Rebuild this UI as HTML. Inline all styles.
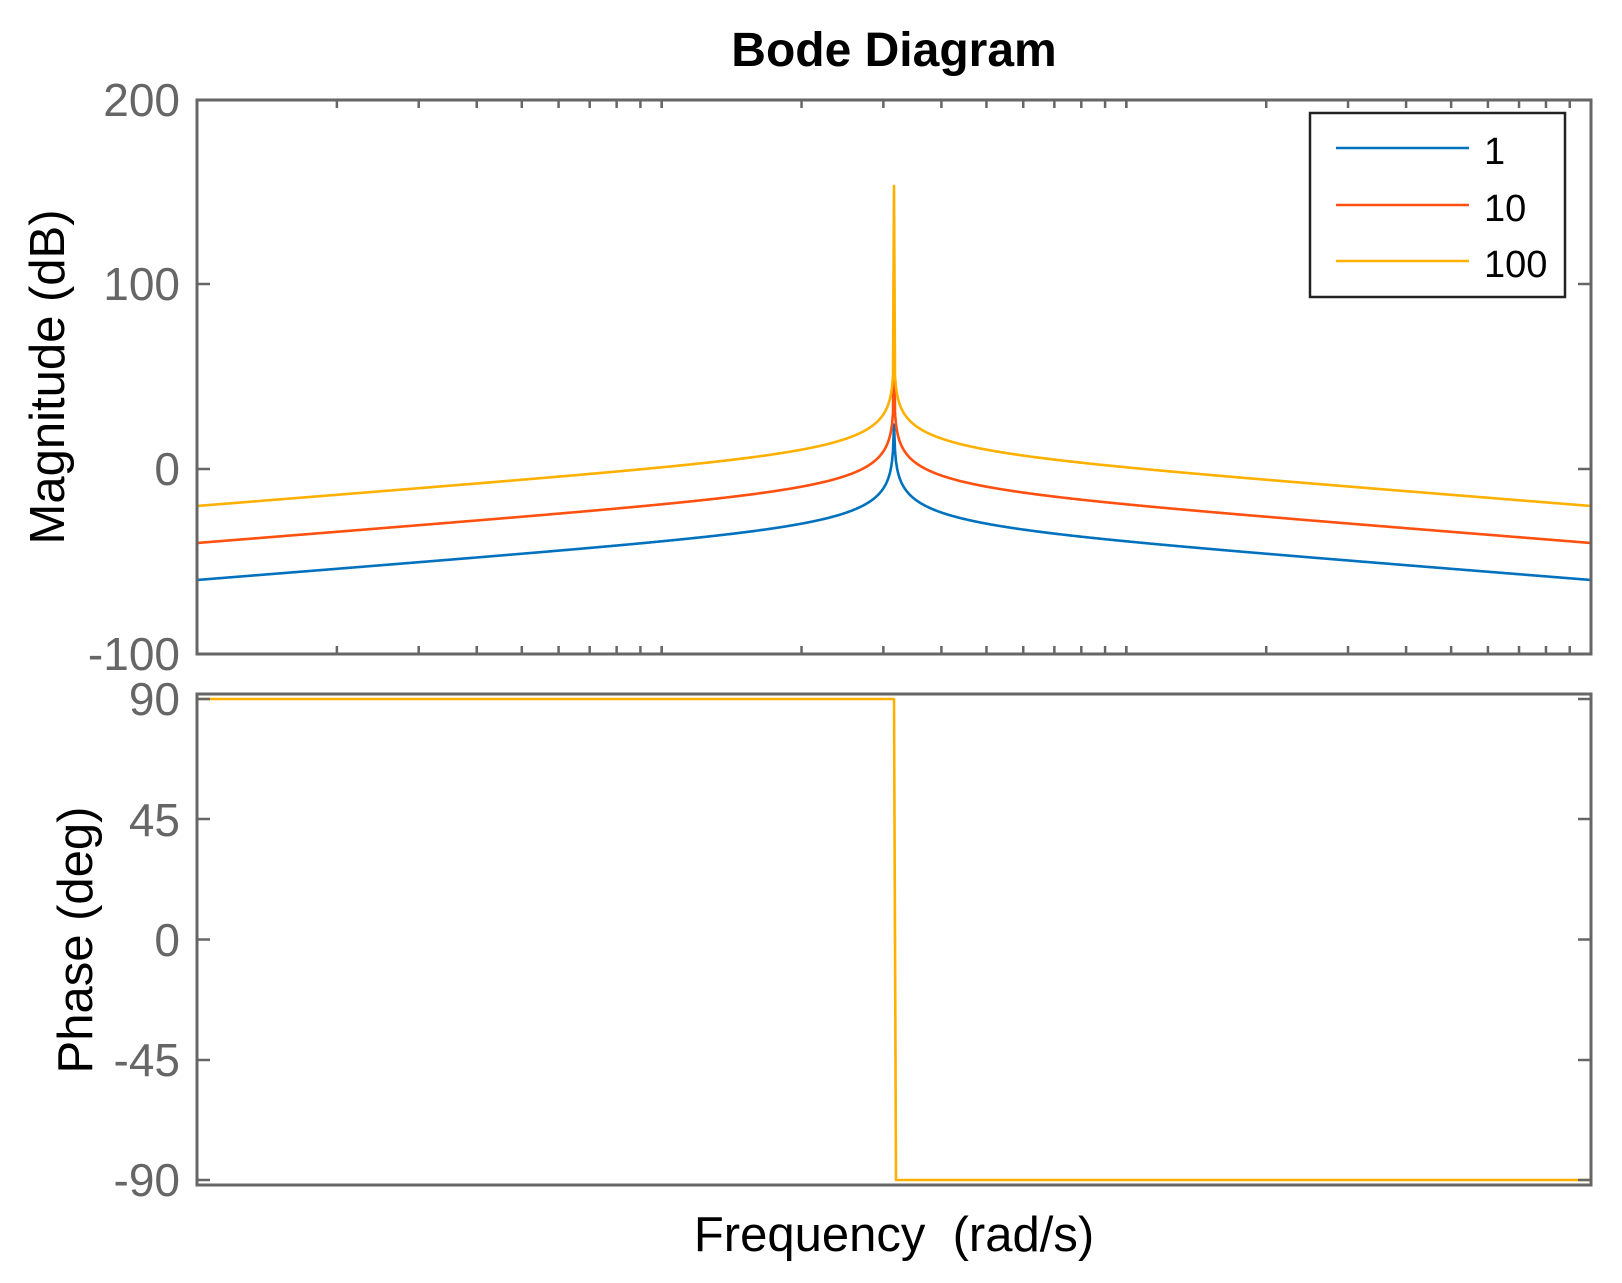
<!DOCTYPE html>
<html><head><meta charset="utf-8"><style>
html,body{margin:0;padding:0;background:#fff;}
svg{display:block;}
text{font-family:"Liberation Sans",Arial,sans-serif;}
</style></head><body>
<svg id="s" width="1622" height="1283" xmlns="http://www.w3.org/2000/svg">
<rect width="1622" height="1283" fill="#fff"/>
<text x="894" y="66" font-size="48" font-weight="bold" text-anchor="middle" fill="#000">Bode Diagram</text>
<g id="curves" fill="none" stroke-width="2.6" stroke-linejoin="round"></g>
<g id="ticks" stroke="#666" stroke-width="2.5"></g>
<rect x="197" y="100" width="1394" height="554" fill="none" stroke="#666" stroke-width="3"/>
<rect x="197" y="694" width="1394" height="491" fill="none" stroke="#666" stroke-width="3"/>
<g font-size="46" fill="#666" text-anchor="end">
<text x="180" y="116">200</text>
<text x="180" y="300">100</text>
<text x="180" y="485">0</text>
<text x="180" y="670">-100</text>
<text x="180" y="715">90</text>
<text x="180" y="836">45</text>
<text x="180" y="956">0</text>
<text x="180" y="1076">-45</text>
<text x="180" y="1196">-90</text>
</g>
<text transform="translate(64,377) rotate(-90)" font-size="49" text-anchor="middle" fill="#000">Magnitude (dB)</text>
<text transform="translate(92,940) rotate(-90)" font-size="49" text-anchor="middle" fill="#000">Phase (deg)</text>
<text x="894" y="1251" font-size="49" text-anchor="middle" fill="#000" xml:space="preserve">Frequency  (rad/s)</text>
<rect x="1310" y="113" width="255" height="184" fill="#fff" stroke="#222" stroke-width="2.5"/>
<line x1="1336" y1="148" x2="1469" y2="148" stroke="#0072BD" stroke-width="2.6"/>
<line x1="1336" y1="205" x2="1469" y2="205" stroke="#FF5010" stroke-width="2.6"/>
<line x1="1336" y1="261" x2="1469" y2="261" stroke="#FFB000" stroke-width="2.6"/>
<g font-size="38" fill="#000">
<text x="1484" y="164">1</text>
<text x="1484" y="221">10</text>
<text x="1484" y="277">100</text>
</g>
</svg>
<script>
(function(){
var NS="http://www.w3.org/2000/svg";
var L=197,R=1591,D=(R-L)/3;
function yM(db){return 469-1.85*db;}
var curves=document.getElementById('curves');
var series=[[0,'#0072BD',24],[20,'#FF5010',90],[40,'#FFB000',153]];
series.forEach(function(s){
  var pts=[];
  for(var x=L;x<=R;x+=1){
    var u=(x-L)/D-1.5;
    var r=Math.pow(10,u);
    var v=Math.abs(r/(1-r*r));
    var db=-30+s[0]+20*Math.log10(v);
    if(!isFinite(db)||db>s[2])db=s[2];
    pts.push(x+','+yM(db).toFixed(2));
  }
  var p=document.createElementNS(NS,'polyline');
  p.setAttribute('points',pts.join(' '));p.setAttribute('stroke',s[1]);
  curves.appendChild(p);
});
var ph=document.createElementNS(NS,'polyline');
ph.setAttribute('points','197,699 894,699 896,1180 1590,1180');
ph.setAttribute('stroke','#FFB000');curves.appendChild(ph);
var t=document.getElementById('ticks');
function ln(a,b,c,d){var l=document.createElementNS(NS,'line');l.setAttribute('x1',a);l.setAttribute('y1',b);l.setAttribute('x2',c);l.setAttribute('y2',d);t.appendChild(l);}
for(var k=0;k<3;k++)for(var m=1;m<=10;m++){
  var x=L+D*(k+Math.log10(m));
  if(x<=L+1||x>=R-1)continue;
  ln(x,100,x,108);ln(x,654,x,646);
}
[284,469].forEach(function(y){ln(L,y,L+13,y);ln(R,y,R-13,y);});
[699,819,939.5,1060,1180].forEach(function(y){ln(L,y,L+13,y);ln(R,y,R-13,y);});
})();
</script>
</body></html>
